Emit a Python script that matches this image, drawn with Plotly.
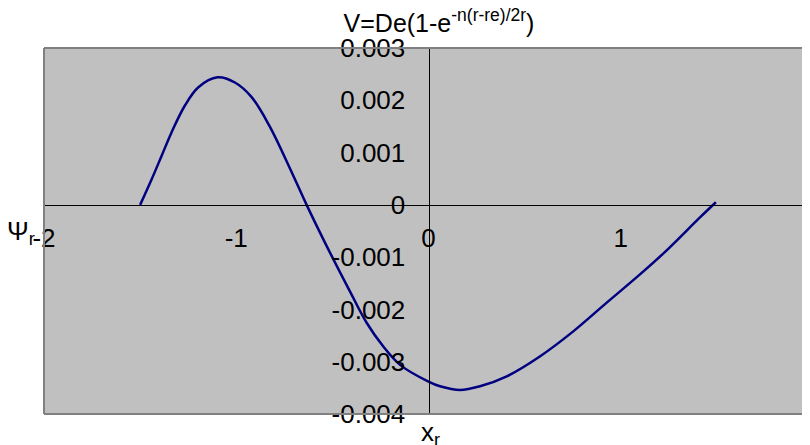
import plotly.graph_objects as go

# wavefunction (x in r units, psi values)
x_r = [-1.500, -1.440, -1.388, -1.336, -1.267, -1.197, -1.097, -1.007, -0.920, -0.826,
       -0.720, -0.634, -0.547, -0.408, -0.321, -0.235, -0.148, 0.000, 0.060,
       0.164, 0.268, 0.407, 0.579, 0.753, 0.927, 1.100, 1.236, 1.412, 1.495]
psi_r = [0.0, 0.00049, 0.00094, 0.00139, 0.00190, 0.00225, 0.00244, 0.00234, 0.00206,
         0.00150, 0.00069, 0.0, -0.00066, -0.00166, -0.00226, -0.00271,
         -0.00306, -0.00338, -0.00347, -0.00354, -0.00347, -0.00328, -0.00290, -0.00242,
         -0.00187, -0.00133, -0.00088, -0.00024, 0.00005]

x_ticks = [-2, -1, 0, 1]
x_ticktext = ["-2", "-1", "0", "1"]
y_ticks = [-0.004, -0.003, -0.002, -0.001, 0, 0.001, 0.002, 0.003]
y_ticktext = ["-0.004", "-0.003", "-0.002", "-0.001", "0", "0.001", "0.002", "0.003"]

FONT = "Arial, Liberation Sans, sans-serif"
OFF = 8                     # page body margin
W, H = 810 - OFF, 445 - OFF
L, R, T, B = 44 - OFF, 0, 48 - OFF, 31
x_min = -2.0
x_max = -2.0 + (W - L - R) / 192.25   # plot area runs past the window edge
y_min, y_max = -0.004, 0.003
ph = H - T - B
pw = W - L - R


def py(ref_y):
    # reference pixel row -> paper fraction
    return (H - B - (ref_y - OFF)) / ph


def px(ref_x):
    return (ref_x - OFF - L) / pw


fig = go.Figure()
fig.add_trace(go.Scatter(x=x_r, y=psi_r, mode="lines",
                         line=dict(color="#000080", width=2.5, shape="spline", smoothing=1.0),
                         showlegend=False, hoverinfo="skip"))

x_pos = (0 - x_min) / (x_max - x_min)
y_pos = (0 - y_min) / (y_max - y_min)

fig.update_xaxes(range=[x_min, x_max], anchor="free", position=y_pos, showgrid=False,
                 zeroline=False, showline=True, linecolor="black", linewidth=1,
                 tickvals=x_ticks, ticktext=x_ticktext, ticks="", ticklabelstandoff=10,
                 tickfont=dict(family=FONT, size=26, color="black"))
fig.update_yaxes(range=[y_min, y_max], anchor="free", position=x_pos, showgrid=False,
                 zeroline=False, showline=True, linecolor="black", linewidth=1,
                 tickvals=y_ticks, ticktext=y_ticktext, ticks="", ticklabelstandoff=18,
                 tickfont=dict(family=FONT, size=26, color="black"))

# plot-area border (top, left, bottom; right edge is off-screen)
for x0, y0, x1, y1 in [(0, 1, 1, 1), (0, 0, 0, 1), (0, 0, 1, 0)]:
    fig.add_shape(type="line", xref="paper", yref="paper", x0=x0, y0=y0, x1=x1, y1=y1,
                  line=dict(color="#808080", width=2))

fig.add_annotation(text="2", xref="paper", yref="paper", x=(2 - x_min) / (x_max - x_min),
                   y=py(237), xanchor="center", yanchor="middle", showarrow=False,
                   font=dict(family=FONT, size=26, color="black"))
fig.add_annotation(text="Ψ<sub>r</sub>", xref="paper", yref="paper", x=px(5),
                   y=py(232), xanchor="left", yanchor="middle", showarrow=False,
                   font=dict(family=FONT, size=26, color="black"))
fig.add_annotation(text="x<sub>r</sub>", xref="paper", yref="paper", x=px(430),
                   y=py(433), xanchor="center", yanchor="middle", showarrow=False,
                   font=dict(family=FONT, size=26, color="black"))

fig.update_layout(
    width=W, height=H, margin=dict(l=L, r=R, t=T, b=B),
    paper_bgcolor="white", plot_bgcolor="#C0C0C0",
    title=dict(text="V=De(1-e<sup>-n(r-re)/2r</sup>)", x=(439 - OFF) / W, xref="container",
               xanchor="center", y=1 - (23 - OFF) / H, yref="container", yanchor="middle",
               font=dict(family=FONT, size=25, color="black")),
)

fig.write_html("out.html")
